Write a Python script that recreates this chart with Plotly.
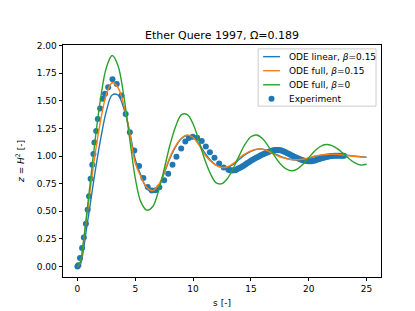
import plotly.graph_objects as go

# Model grid (s) and curve values
s_model = [0.0, 0.25, 0.5, 0.75, 1.0, 1.5, 2.0, 2.5, 3.0, 3.5, 4.0, 4.5, 5.0, 5.5, 6.0, 6.5,
           7.0, 7.5, 8.0, 8.5, 9.0, 9.5, 10.0, 10.5, 11.0, 11.5, 12.0, 12.5, 13.0, 13.5,
           14.0, 14.5, 15.0, 15.5, 16.0, 16.5, 17.0, 17.5, 18.0, 18.5, 19.0, 19.5, 20.0,
           20.5, 21.0, 21.5, 22.0, 22.5, 23.0, 23.5, 24.0, 24.5, 25.0]

z_linear = [0.0, 0.02, 0.14, 0.32, 0.49, 0.84, 1.15, 1.406, 1.552, 1.552, 1.434, 1.228, 0.97,
            0.82, 0.706, 0.672, 0.723, 0.845, 0.98, 1.085, 1.158, 1.186, 1.17, 1.11, 1.03,
            0.962, 0.918, 0.897, 0.898, 0.926, 0.97, 1.012, 1.042, 1.06, 1.062, 1.049, 1.024,
            0.998, 0.98, 0.968, 0.965, 0.969, 0.98, 0.995, 1.006, 1.013, 1.016, 1.016, 1.011,
            1.004, 0.998, 0.993, 0.99]

z_full = [0.0, 0.035, 0.2, 0.41, 0.61, 1.0, 1.32, 1.556, 1.663, 1.62, 1.465, 1.22, 0.935,
          0.81, 0.715, 0.686, 0.735, 0.852, 0.99, 1.094, 1.163, 1.19, 1.167, 1.1, 1.013,
          0.954, 0.915, 0.896, 0.903, 0.935, 0.982, 1.019, 1.046, 1.062, 1.061, 1.045, 1.017,
          0.993, 0.978, 0.967, 0.966, 0.971, 0.984, 0.999, 1.008, 1.014, 1.017, 1.015, 1.009,
          1.002, 0.996, 0.991, 0.988]

z_full_b0 = [0.0, 0.04, 0.21, 0.43, 0.66, 1.12, 1.52, 1.8, 1.91, 1.82, 1.55, 1.17, 0.8,
             0.58, 0.51, 0.54, 0.68, 0.88, 1.1, 1.27, 1.375, 1.375, 1.29, 1.14, 0.97,
             0.84, 0.756, 0.75, 0.8, 0.894, 1.006, 1.107, 1.174, 1.19, 1.158, 1.09, 1.008,
             0.934, 0.885, 0.866, 0.882, 0.926, 0.985, 1.043, 1.086, 1.104, 1.094, 1.065,
             1.021, 0.975, 0.937, 0.918, 0.925]

# Experimental points
exp_s = [0.0, 0.08, 0.22, 0.40, 0.55, 0.73, 0.88, 1.0, 1.14, 1.28, 1.38, 1.47, 1.62, 1.76,
         1.96, 2.18, 2.38, 2.66, 3.03, 3.4, 3.8, 4.17, 4.53, 4.92, 5.33, 5.7, 6.08, 6.43,
         6.77, 7.08, 7.5, 7.85, 8.22, 8.56, 8.97, 9.33, 9.64, 9.97, 10.35, 10.75, 11.1,
         11.45, 11.85, 12.25, 12.65, 13.05,
         13.2, 13.35, 13.5, 13.65, 13.8, 13.95, 14.1, 14.25, 14.4, 14.55, 14.7, 14.85, 15.0,
         15.15, 15.3, 15.45, 15.6, 15.75, 15.9, 16.05, 16.2, 16.35, 16.5, 16.65, 16.8, 16.95,
         17.1, 17.25, 17.4, 17.55, 17.7, 17.85, 18.0, 18.15, 18.3, 18.45, 18.6, 18.75, 18.9,
         19.05, 19.2, 19.35, 19.5, 19.65, 19.8, 19.95, 20.1, 20.25, 20.4, 20.55, 20.7, 20.85,
         21.0, 21.15, 21.3, 21.45, 21.6, 21.75, 21.9, 22.05, 22.2, 22.35, 22.5, 22.65, 22.8,
         22.95, 23.05]
exp_z = [0.0, 0.012, 0.077, 0.167, 0.262, 0.387, 0.514, 0.635, 0.795, 0.921, 1.018, 1.123,
         1.226, 1.334, 1.431, 1.519, 1.563, 1.622, 1.695, 1.651, 1.548, 1.38, 1.215, 1.05,
         0.91, 0.8, 0.72, 0.688, 0.69, 0.716, 0.78, 0.84, 0.921, 0.994, 1.068, 1.132, 1.164,
         1.175, 1.165, 1.135, 1.085, 1.035, 0.985, 0.932, 0.895, 0.876,
         0.872, 0.868, 0.87, 0.872, 0.88, 0.888, 0.896, 0.905, 0.915, 0.925, 0.936, 0.946,
         0.956, 0.966, 0.975, 0.984, 0.992, 1.0, 1.008, 1.016, 1.023, 1.03, 1.036, 1.042,
         1.047, 1.051, 1.054, 1.055, 1.055, 1.052, 1.047, 1.041, 1.034, 1.026, 1.018, 1.01,
         1.002, 0.994, 0.987, 0.98, 0.973, 0.967, 0.962, 0.958, 0.955, 0.953, 0.952, 0.953,
         0.956, 0.96, 0.965, 0.97, 0.976, 0.981, 0.985, 0.989, 0.993, 0.996, 0.999, 1.001,
         1.002, 1.003, 1.003, 1.002, 1.002, 1.003, 1.003]

x_ticks = [0, 5, 10, 15, 20, 25]
y_ticks = [0.0, 0.25, 0.5, 0.75, 1.0, 1.25, 1.5, 1.75, 2.0]

legend_labels = ["ODE linear, <i>β</i>=0.15", "ODE full, <i>β</i>=0.15",
                 "ODE full, <i>β</i>=0", "Experiment"]

BLUE, ORANGE, GREEN = "#1f77b4", "#ff7f0e", "#2ca02c"
FONT = "DejaVu Sans"

fig = go.Figure()
fig.add_trace(go.Scatter(x=exp_s, y=exp_z, mode="markers", name=legend_labels[3],
                         marker=dict(color=BLUE, size=6, line=dict(width=0)),
                         showlegend=False))
fig.add_trace(go.Scatter(x=s_model, y=z_linear, mode="lines", name=legend_labels[0],
                         line=dict(color=BLUE, width=1.4, shape="spline"), showlegend=False))
fig.add_trace(go.Scatter(x=s_model, y=z_full, mode="lines", name=legend_labels[1],
                         line=dict(color=ORANGE, width=1.4, shape="spline"), showlegend=False))
fig.add_trace(go.Scatter(x=s_model, y=z_full_b0, mode="lines", name=legend_labels[2],
                         line=dict(color=GREEN, width=1.4, shape="spline"), showlegend=False))

axis_common = dict(showgrid=False, zeroline=False, showline=True, mirror=True,
                   linecolor="black", linewidth=0.8, ticks="outside", ticklen=3.5,
                   tickwidth=0.8, tickcolor="black",
                   tickfont=dict(family=FONT, size=9, color="black"))

fig.update_xaxes(range=[-1.25, 26.25], tickvals=x_ticks,
                 title=dict(text="s [-]", font=dict(family=FONT, size=9), standoff=6),
                 **axis_common)
fig.update_yaxes(range=[-0.0955, 2.005], tickvals=y_ticks, tickformat=".2f",
                 title=dict(text="<i>z</i> = <i>H</i><sup>2</sup> [-]",
                            font=dict(family=FONT, size=9), standoff=10),
                 **axis_common)

# Compact matplotlib-style legend (box, samples, labels) in plot-area coordinates
L, R, T, B = 52, 373, 37, 276
def px(xp):
    return (xp - L) / (R - L)
def py(yp):
    return (B - yp) / (B - T)

shapes = [dict(type="rect", xref="paper", yref="paper", x0=px(249), x1=px(368),
               y0=py(100), y1=py(41), fillcolor="rgba(255,255,255,0.8)",
               line=dict(color="#cccccc", width=1), layer="above")]
rows = [49, 63.5, 78, 92.5]
colors = [BLUE, ORANGE, GREEN]
annotations = []
for i, lab in enumerate(legend_labels):
    yv = py(rows[i])
    if i < 3:
        shapes.append(dict(type="line", xref="paper", yref="paper", x0=px(254), x1=px(271),
                           y0=yv, y1=yv, line=dict(color=colors[i], width=1.4),
                           layer="above"))
    else:
        shapes.append(dict(type="circle", xref="paper", yref="paper",
                           xsizemode="pixel", ysizemode="pixel",
                           xanchor=px(262.5), yanchor=yv, x0=-3, x1=3, y0=-3, y1=3,
                           fillcolor=BLUE, line=dict(width=0), layer="above"))
    annotations.append(dict(text=lab, xref="paper", yref="paper", x=px(278), y=yv,
                            xanchor="left", yanchor="middle", showarrow=False,
                            font=dict(family=FONT, size=9, color="black")))

fig.update_layout(
    width=415, height=311,
    margin=dict(l=52, r=42, t=37, b=35),
    plot_bgcolor="white", paper_bgcolor="white",
    font=dict(family=FONT, size=9, color="black"),
    title=dict(text="Ether Quere 1997, Ω=0.189", x=0.5, xref="paper", xanchor="center",
               y=1 - 27 / 311, yref="container", yanchor="middle",
               font=dict(family=FONT, size=11, color="black")),
    shapes=shapes,
    annotations=annotations,
    showlegend=False,
)

fig.write_html("out.html")
